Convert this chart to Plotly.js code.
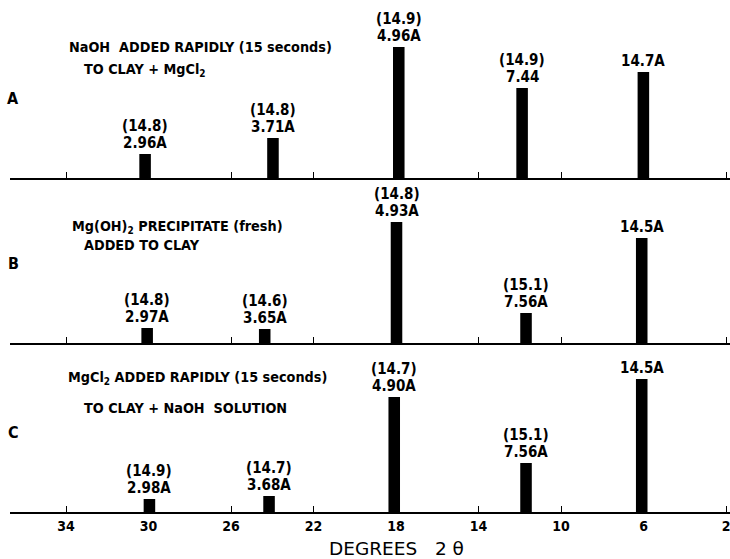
<!DOCTYPE html>
<html><head><meta charset="utf-8">
<script src="https://cdn.plot.ly/plotly-3.0.1.min.js"></script>
<style>html,body{margin:0;padding:0;background:#fff}</style>
</head><body><div id="chart" style="width:730px;height:559px"></div>
<script>
// ---- data ----
const tickVals = [34, 30, 26, 22, 18, 14, 10, 6, 2];
const tickText = ["34", "30", "26", "22", "18", "14", "10", "6", "2"];

const thetaA = [30.17, 23.97, 17.87, 11.89, 6.01];
const intensityA = [24, 40, 131, 90, 106];
const dLabelA = ["2.96A", "3.71A", "4.96A", "7.44", "14.7A"];
const glyLabelA = ["(14.8)", "(14.8)", "(14.9)", "(14.9)", ""];
const titleA = ["NaOH&nbsp;&nbsp;ADDED RAPIDLY (15 seconds)", "TO CLAY + MgCl<sub>2</sub>"];

const thetaB = [30.07, 24.37, 17.98, 11.70, 6.09];
const intensityB = [15, 14, 121, 30, 105];
const dLabelB = ["2.97A", "3.65A", "4.93A", "7.56A", "14.5A"];
const glyLabelB = ["(14.8)", "(14.6)", "(14.8)", "(15.1)", ""];
const titleB = ["Mg(OH)<sub>2</sub> PRECIPITATE (fresh)", "ADDED TO CLAY"];

const thetaC = [29.96, 24.16, 18.09, 11.70, 6.09];
const intensityC = [13, 16, 115, 49, 133];
const dLabelC = ["2.98A", "3.68A", "4.90A", "7.56A", "14.5A"];
const glyLabelC = ["(14.9)", "(14.7)", "(14.7)", "(15.1)", ""];
const titleC = ["MgCl<sub>2</sub> ADDED RAPIDLY (15 seconds)", "TO CLAY + NaOH&nbsp;&nbsp;SOLUTION"];

const panelNames = ["A", "B", "C"];
const xTitle = "DEGREES&nbsp;&nbsp;&nbsp;2&nbsp;θ";

// ---- layout helpers ----
const W = 730, H = 559, ML = 10, MR = 0, MT = 0, MB = 47;
const PW = W - ML - MR, PH = H - MT - MB;
const px = x => (x - ML) / PW;
const py = y => (PH + MT - y) / PH;
const FONT = "'DejaVu Sans Condensed', 'DejaVu Sans', sans-serif";
const FONTN = "'DejaVu Sans', sans-serif";

const panels = [
  {th: thetaA, it: intensityA, d: dLabelA, g: glyLabelA, title: titleA, xa: "x3", ya: "y3",
   titlePos: [[67, 47], [82, 70]], namePos: [13, 98]},
  {th: thetaB, it: intensityB, d: dLabelB, g: glyLabelB, title: titleB, xa: "x2", ya: "y2",
   titlePos: [[70, 227], [82, 245]], namePos: [13, 263]},
  {th: thetaC, it: intensityC, d: dLabelC, g: glyLabelC, title: titleC, xa: "x", ya: "y",
   titlePos: [[66, 378], [82, 408]], namePos: [13, 432]}
];

const traces = panels.map(p => ({
  type: "bar", x: p.th, y: p.it, xaxis: p.xa, yaxis: p.ya, width: 0.56,
  marker: {color: "#000", line: {width: 0}}, hoverinfo: "skip", showlegend: false
}));

const annotations = [];
panels.forEach((p, k) => {
  p.th.forEach((t, i) => {
    annotations.push({x: t, y: p.it[i], xref: p.xa, yref: p.ya, text: p.d[i],
      showarrow: false, xanchor: "center", yanchor: "bottom", yshift: 0,
      font: {family: FONT, size: 15, weight: "bold", color: "#000"}});
    if (p.g[i]) annotations.push({x: t, y: p.it[i], xref: p.xa, yref: p.ya, text: p.g[i],
      showarrow: false, xanchor: "center", yanchor: "bottom", yshift: 17,
      font: {family: FONT, size: 15, weight: "bold", color: "#000"}});
  });
  p.title.forEach((s, j) => {
    annotations.push({x: px(p.titlePos[j][0]), y: py(p.titlePos[j][1]), xref: "paper", yref: "paper",
      text: s, showarrow: false, xanchor: "left", yanchor: "middle",
      font: {family: FONT, size: 14.3, weight: "bold", color: "#000"}});
  });
  annotations.push({x: px(p.namePos[0]), y: py(p.namePos[1]), xref: "paper", yref: "paper",
    text: panelNames[k], showarrow: false, xanchor: "center", yanchor: "middle",
    font: {family: FONT, size: 16, weight: "bold", color: "#000"}});
});
annotations.push({x: px(396), y: py(548), xref: "paper", yref: "paper", text: xTitle,
  showarrow: false, xanchor: "center", yanchor: "middle",
  font: {family: FONTN, size: 18.5, color: "#000"}});

const xBase = {
  range: [36.72, 1.81], showline: true, linewidth: 2, linecolor: "#000",
  ticks: "inside", ticklen: 6, tickwidth: 1, tickcolor: "#000",
  tickmode: "array", tickvals: tickVals, ticktext: tickText,
  showgrid: false, zeroline: false, fixedrange: true, ticklabeloverflow: "allow",
  tickfont: {family: FONT, size: 14, weight: "bold", color: "#000"}
};

const layout = {
  width: W, height: H, margin: {l: ML, r: MR, t: MT, b: MB},
  paper_bgcolor: "#fff", plot_bgcolor: "#fff", showlegend: false,
  xaxis: Object.assign({}, xBase, {anchor: "y"}),
  xaxis2: Object.assign({}, xBase, {anchor: "y2", matches: "x", showticklabels: false}),
  xaxis3: Object.assign({}, xBase, {anchor: "y3", matches: "x", showticklabels: false}),
  yaxis: {domain: [0, py(345)], range: [0, 512 - 345], visible: false, fixedrange: true},
  yaxis2: {domain: [py(343), py(180)], range: [0, 343 - 180], visible: false, fixedrange: true},
  yaxis3: {domain: [py(178), 1], range: [0, 178], visible: false, fixedrange: true},
  annotations: annotations
};

Plotly.newPlot("chart", traces, layout, {staticPlot: true, displayModeBar: false});
</script></body></html>
